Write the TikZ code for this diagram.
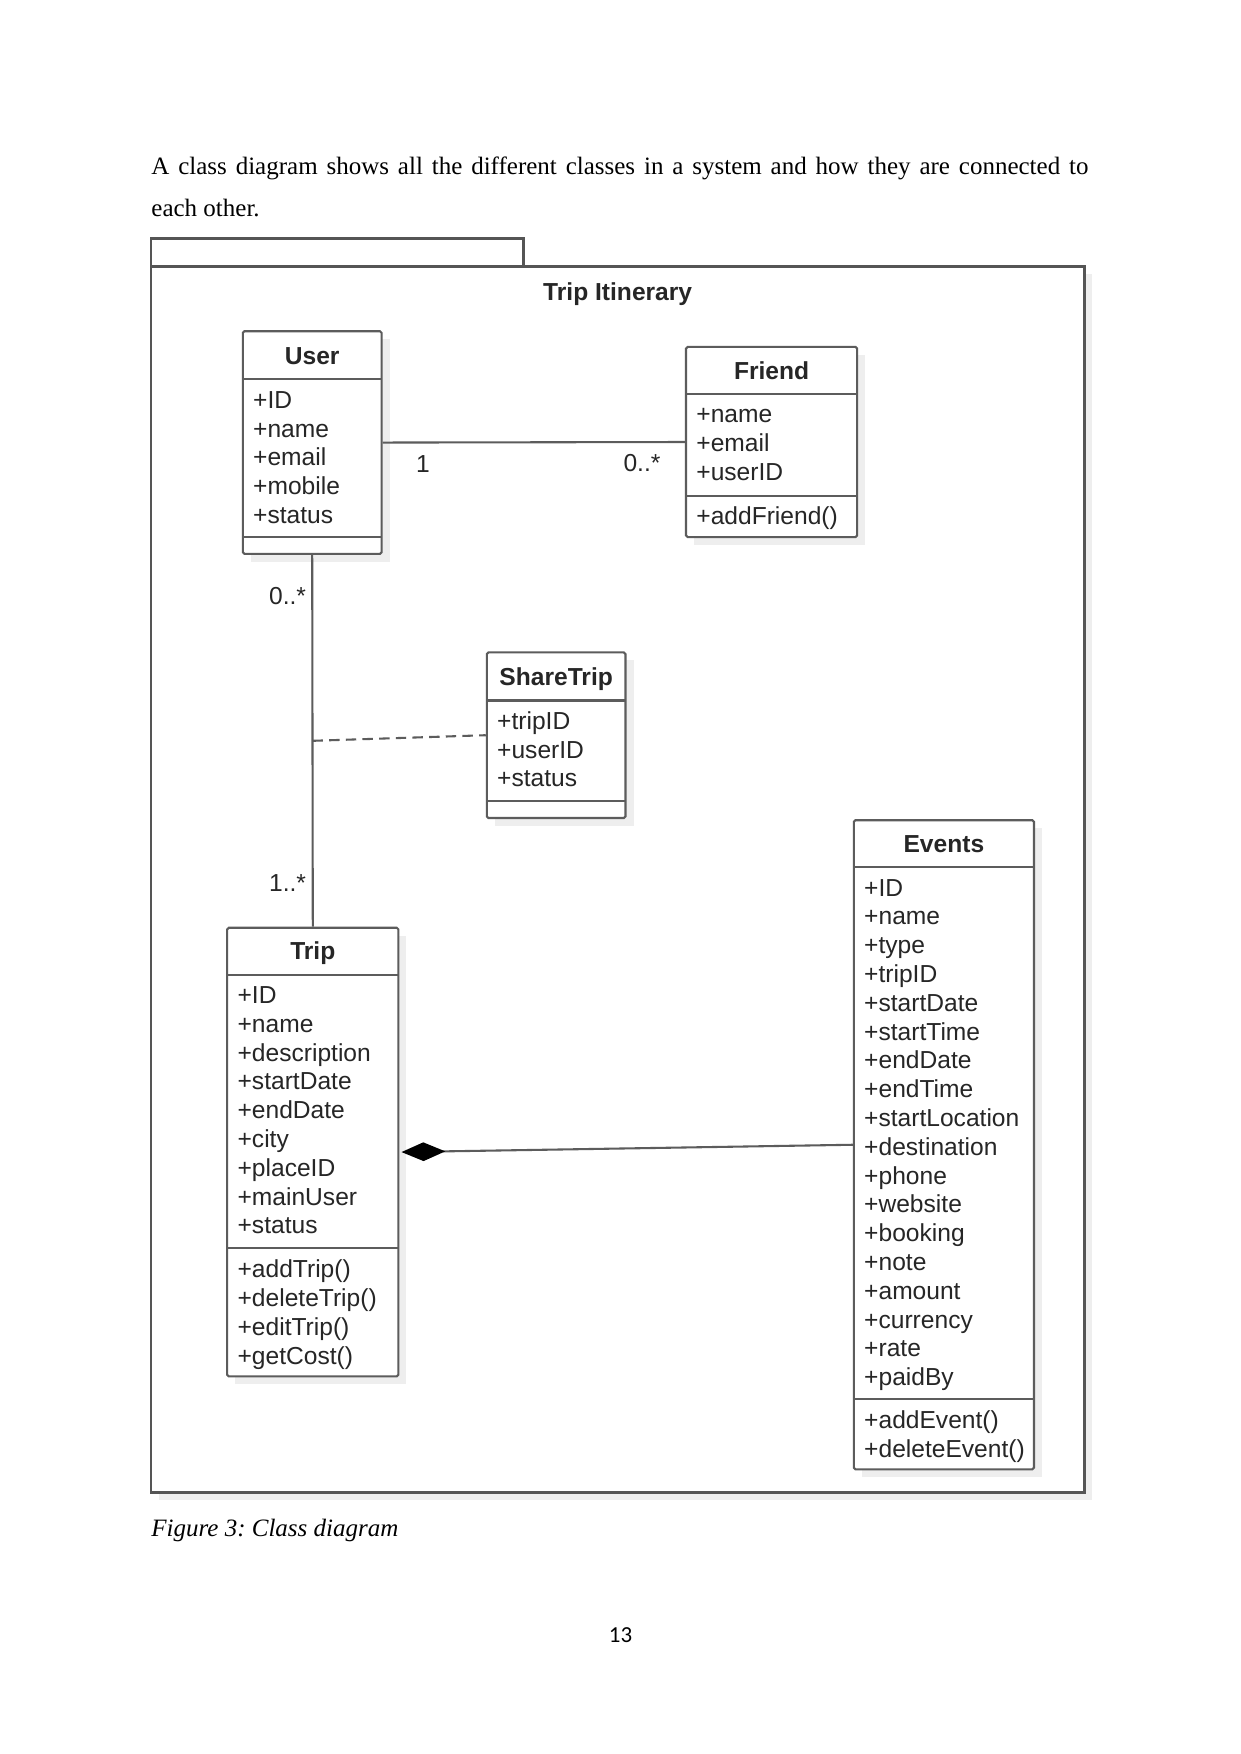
\documentclass[tikz,border=0pt]{standalone}
\usepackage{fontspec}
\setmainfont{Liberation Serif}
\newfontfamily\diagfont{Liberation Sans}
\newfontfamily\pagefont{Carlito}
\usetikzlibrary{arrows.meta,fit,calc}
\definecolor{linec}{HTML}{5C5C5C}
\definecolor{framec}{HTML}{555555}
\definecolor{textc}{HTML}{262626}
\definecolor{shadowc}{HTML}{EEEEEE}
\frenchspacing
\tikzset{
  classbox/.style={draw=linec, line width=1pt, fill=white, inner sep=0pt, rounded corners=0.8pt},
  boxshadow/.style={fill=shadowc},
  sepline/.style={draw=linec, line width=1pt},
  cname/.style={font=\diagfont\bfseries\fontsize{11.8}{13.9}\selectfont, text=textc, inner sep=0pt, text height=8.4pt, text depth=0pt},
  attr/.style={font=\diagfont\fontsize{11.8}{13.9}\selectfont, text=textc, inner sep=0pt, anchor=base west},
  mult/.style={font=\diagfont\fontsize{11.8}{13.9}\selectfont, text=textc, inner sep=0pt},
  assoc/.style={draw=linec, line width=1pt},
  pkgbox/.style={draw=framec, line width=1.3pt, inner sep=0pt},
}
\newcommand\classbox[8]{%
  \fill[boxshadow] (#2+8,#3+8) rectangle (#4+8,#5+8);
  \node[classbox, fit={(#2,#3) (#4,#5)}] (#1) {};
  \draw[sepline] (#2,#6) -- (#4,#6);
  \draw[sepline] (#2,#7) -- (#4,#7);
  \node[cname] (#1-title) at ({(#2+#4)/2},{(#3+#6)/2}) {#8};
}
\newcommand\classlines[4]{%
  \foreach \t [count=\i from 0] in {#4} \node[attr] (#1-\i) at (#2,#3+\i*28.8) {\t};
}
\begin{document}
\begin{tikzpicture}[x=0.48pt,y=-0.48pt]
\useasboundingbox[fill=white] (0,0) rectangle (1241,1754);

% paragraph
\node[anchor=base west, inner sep=0pt, text width=449.8pt, align=justify,
      font=\fontsize{12}{20.4}\selectfont] (para) at (151,174)
  {A class diagram shows all the different classes in a system and how they are connected to\linebreak each other.};

% package frame
\fill[shadowc] (159,274) rectangle (1092,1500);
\node[pkgbox, fill=white, fit={(151.1,266.3) (1084.3,1492.8)}] (pkg) {};
\node[pkgbox, fill=white, fit={(151.1,238.4) (523.7,266.3)}] (pkgtab) {};
\node[cname] (pkgname) at (617.7,292) {Trip Itinerary};

% classes
\classbox{user}{242.8}{331.2}{381.6}{553.9}{379.4}{537.1}{User}
\classlines{user-a}{252.8}{408.2}{+ID,+name,+email,+mobile,+status}

\classbox{friend}{686}{346.9}{857.2}{537.1}{393.9}{495.7}{Friend}
\classlines{friend-a}{696}{422.7}{+name,+email,+userID}
\classlines{friend-m}{696}{524.7}{+addFriend()}

\classbox{share}{486.8}{652.4}{625.5}{818}{700.5}{801.2}{ShareTrip}
\classlines{share-a}{496.8}{729.3}{+tripID,+userID,+status}

\classbox{trip}{227.2}{927.7}{398.4}{1376.4}{974.7}{1247.7}{Trip}
\classlines{trip-a}{237.2}{1003.5}{+ID,+name,+description,+startDate,+endDate,+city,+placeID,+mainUser,+status}
\classlines{trip-m}{237.2}{1277.7}{+addTrip(),+deleteTrip(),+editTrip(),+getCost()}

\classbox{events}{853.8}{820.2}{1034}{1469.3}{867.2}{1398.8}{Events}
\classlines{events-a}{863.8}{896}{+ID,+name,+type,+tripID,+startDate,+startTime,+endDate,+endTime,+startLocation,+destination,+phone,+website,+booking,+note,+amount,+currency,+rate,+paidBy}
\classlines{events-m}{863.8}{1428.8}{+addEvent(),+deleteEvent()}

% connectors
\draw[assoc] (user.east) -- (friend.west);
\draw[assoc] (user.south) -- (trip.north);
\coordinate (assocmid) at ($(user.south)!0.5!(trip.north)$);
\draw[assoc, dashed, dash pattern=on 5pt off 3pt] (assocmid) -- (share.west);
\draw[assoc, {Diamond[length=21pt,width=9pt,color=black,fill=black]}-] ([xshift=1pt]trip.east) -- (events.west);

% multiplicities
\node[mult] (m1) at (423,464.4) {1};
\node[mult] (m2) at (642,463) {0..*};
\node[mult] (m3) at (287.6,596.4) {0..*};
\node[mult] (m4) at (287.6,883) {1..*};

% caption and page number
\node[anchor=base west, inner sep=0pt, font=\itshape\fontsize{12}{14}\selectfont] (caption) at (151,1536) {Figure 3: Class diagram};
\node[inner sep=0pt, font=\pagefont\fontsize{11}{13}\selectfont] (pageno) at (620.5,1635) {13};
\end{tikzpicture}
\end{document}
